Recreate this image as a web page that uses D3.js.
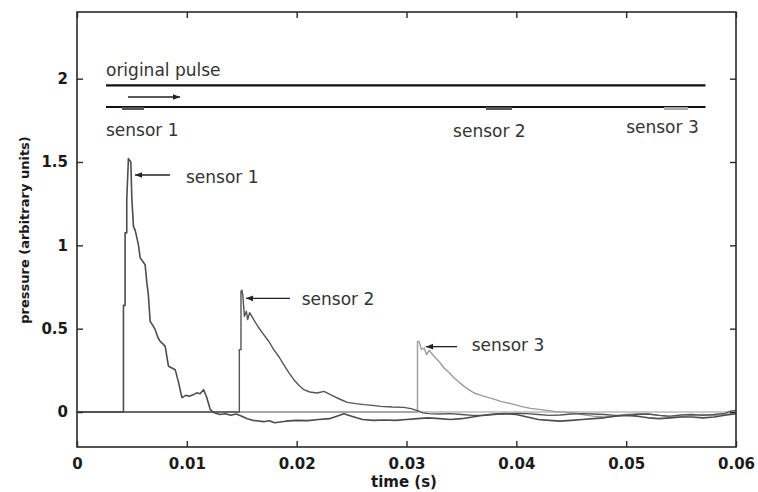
<!DOCTYPE html>
<html>
<head>
<meta charset="utf-8">
<script src="https://cdn.jsdelivr.net/npm/d3@7/dist/d3.min.js"></script>
<style>
  html, body { margin: 0; padding: 0; background: #fff; }
  svg { display: block; }
</style>
</head>
<body>
<svg id="chart" width="758" height="492"></svg>
<script>
// ---- data: pressure traces recorded at three sensors (time in s) ----
const sensor1Time = [0, 0.00423, 0.00423, 0.00438, 0.00438, 0.00453, 0.00453, 0.00468, 0.0049, 0.00499,
  0.00514, 0.0053, 0.00545, 0.0056, 0.00575, 0.0062, 0.00636, 0.0065, 0.00666, 0.0069, 0.00712, 0.00735,
  0.00757, 0.0078, 0.00803, 0.00833, 0.0086, 0.00894, 0.00925, 0.00955, 0.0099, 0.0102, 0.0106, 0.0109,
  0.0112, 0.01152, 0.0118, 0.01214, 0.0125, 0.013, 0.0135, 0.014, 0.0145, 0.015, 0.0155, 0.016, 0.017,
  0.0175, 0.018, 0.019, 0.020, 0.021, 0.022, 0.023, 0.0243, 0.025, 0.026, 0.027, 0.028, 0.029, 0.030,
  0.031, 0.032, 0.033, 0.034, 0.035, 0.036, 0.037, 0.038, 0.039, 0.040, 0.041, 0.042, 0.043, 0.044,
  0.045, 0.046, 0.047, 0.048, 0.049, 0.050, 0.051, 0.052, 0.053, 0.054, 0.055, 0.056, 0.057, 0.058,
  0.059, 0.060];
const sensor1Value = [0, 0, 0.64, 0.64, 1.075, 1.075, 1.27, 1.52, 1.50, 1.285,
  1.114, 1.09, 1.046, 1.0, 0.926, 0.884, 0.776, 0.70, 0.544, 0.52, 0.494, 0.45,
  0.424, 0.41, 0.394, 0.274, 0.265, 0.254, 0.176, 0.086, 0.10, 0.095, 0.104, 0.115,
  0.11, 0.134, 0.09, 0.014, -0.005, -0.015, -0.01, -0.02, -0.012, -0.025, -0.04, -0.05, -0.058,
  -0.052, -0.065, -0.055, -0.05, -0.052, -0.045, -0.04, -0.01, -0.025, -0.045, -0.05, -0.048, -0.05, -0.045,
  -0.04, -0.035, -0.04, -0.045, -0.04, -0.03, -0.02, -0.012, -0.01, -0.015, -0.03, -0.045, -0.05, -0.055,
  -0.05, -0.045, -0.04, -0.035, -0.025, -0.02, -0.025, -0.035, -0.04, -0.035, -0.03, -0.03, -0.035, -0.03,
  -0.02, -0.01];

const sensor2Time = [0, 0.01478, 0.01478, 0.01493, 0.01493, 0.01502, 0.0151, 0.01524, 0.01542, 0.01554,
  0.01572, 0.01609, 0.0165, 0.017, 0.0175, 0.01791, 0.0184, 0.01882, 0.0193, 0.01974, 0.0202, 0.02065,
  0.0212, 0.02187, 0.02248, 0.0229, 0.02339, 0.024, 0.02461, 0.0254, 0.02612, 0.0269, 0.02765, 0.0287,
  0.02977, 0.0304, 0.031, 0.0315, 0.032, 0.033, 0.034, 0.035, 0.036, 0.037, 0.038, 0.039, 0.040, 0.041,
  0.042, 0.043, 0.044, 0.045, 0.046, 0.047, 0.048, 0.049, 0.050, 0.051, 0.052, 0.053, 0.054, 0.055,
  0.056, 0.057, 0.058, 0.059, 0.0595, 0.060];
const sensor2Value = [0, 0, 0.374, 0.374, 0.724, 0.73, 0.70, 0.574, 0.604, 0.554,
  0.596, 0.554, 0.51, 0.464, 0.42, 0.374, 0.33, 0.284, 0.235, 0.194, 0.16, 0.134,
  0.12, 0.114, 0.124, 0.11, 0.094, 0.075, 0.058, 0.05, 0.044, 0.04, 0.034, 0.03,
  0.028, 0.02, 0.008, -0.005, -0.01, -0.012, -0.01, -0.015, -0.02, -0.02, -0.015, -0.01, -0.008, -0.01,
  -0.015, -0.02, -0.018, -0.012, -0.01, -0.012, -0.015, -0.02, -0.02, -0.015, -0.012, -0.02, -0.025, -0.018,
  -0.015, -0.02, -0.015, -0.008, 0.005, 0.01];

const sensor3Time = [0, 0.031, 0.031, 0.03114, 0.03136, 0.0316, 0.03184, 0.03205, 0.03227, 0.03251,
  0.033, 0.03342, 0.0339, 0.03434, 0.0348, 0.03525, 0.0357, 0.03616, 0.0366, 0.03707, 0.0378, 0.0386,
  0.0395, 0.04042, 0.0413, 0.04224, 0.04346, 0.04528, 0.046, 0.047, 0.048, 0.049, 0.050, 0.051, 0.052,
  0.053, 0.054, 0.055, 0.056, 0.057, 0.058, 0.059, 0.060];
const sensor3Value = [0, 0, 0.424, 0.424, 0.374, 0.384, 0.344, 0.37, 0.354, 0.334,
  0.30, 0.264, 0.235, 0.204, 0.178, 0.154, 0.133, 0.114, 0.104, 0.094, 0.08, 0.064,
  0.05, 0.034, 0.022, 0.014, 0.004, -0.005, -0.015, -0.025, -0.03, -0.025, -0.015, -0.01, -0.012,
  -0.02, -0.03, -0.028, -0.02, -0.015, -0.02, -0.015, -0.005];

// ---- axes ----
const xTicks = [0, 0.01, 0.02, 0.03, 0.04, 0.05, 0.06];
const xTickLabels = ["0", "0.01", "0.02", "0.03", "0.04", "0.05", "0.06"];
const yTicks = [0, 0.5, 1, 1.5, 2];
const yTickLabels = ["0", "0.5", "1", "1.5", "2"];
const xDomain = [0, 0.06];
const yDomain = [-0.21, 2.4];

// ---- schematic of the tube: pulse line, sensor line, direction arrow ----
const pulseLineX = [0.00264, 0.05722], pulseLineY = 1.96;
const sensorLineX = [0.00264, 0.05722], sensorLineY = 1.83;
const directionArrowX = [0.00464, 0.00938], directionArrowY = 1.89;
const sensorNames = ["sensor 1", "sensor 2", "sensor 3"];
const sensorMarkStart = [0.0041, 0.03724, 0.05345];
const sensorMarkEnd = [0.0061, 0.0396, 0.05563];
const sensorNameX = [0.00264, 0.03424, 0.05];
const sensorNameY = [1.658, 1.648, 1.672];

// ---- peak callouts ----
const calloutTipX = [0.00528, 0.01539, 0.03178];
const calloutTailX = [0.00847, 0.01939, 0.0346];
const calloutY = [1.422, 0.682, 0.392];
const calloutTextX = [0.00992, 0.02046, 0.03594];
const calloutTextY = [1.376, 0.642, 0.368];

// ---- drawing ----
const svg = d3.select("#chart");
const plotLeft = 77, plotRight = 736, plotTop = 12, plotBottom = 447;
const x = d3.scaleLinear().domain(xDomain).range([plotLeft, plotRight]);
const y = d3.scaleLinear().domain(yDomain).range([plotBottom, plotTop]);

const tickFont = "'DejaVu Sans', sans-serif";
const ink = "#1a1a1a";

svg.append("rect").attr("width", 758).attr("height", 492).attr("fill", "#fff");

const defs = svg.append("defs");
defs.append("marker")
  .attr("id", "head").attr("viewBox", "0 0 10 10")
  .attr("refX", 10).attr("refY", 5)
  .attr("markerWidth", 10).attr("markerHeight", 7)
  .attr("markerUnits", "userSpaceOnUse")
  .attr("orient", "auto")
  .append("path").attr("d", "M0,1 L10,5 L0,9 Z").attr("fill", "#222");

// zero reference
svg.append("line")
  .attr("x1", x(xDomain[0])).attr("x2", x(xDomain[1]))
  .attr("y1", y(0)).attr("y2", y(0))
  .attr("stroke", "#9a9a9a").attr("stroke-width", 1.2);

const line = d3.line().x(d => x(d[0])).y(d => y(d[1]));
const traces = [
  { t: sensor3Time, v: sensor3Value, color: "#9c9c9c", w: 1.4 },
  { t: sensor2Time, v: sensor2Value, color: "#555555", w: 1.4 },
  { t: sensor1Time, v: sensor1Value, color: "#4d4d4d", w: 1.6 }
];
traces.forEach(tr => {
  svg.append("path")
    .datum(d3.zip(tr.t, tr.v))
    .attr("d", line)
    .attr("fill", "none")
    .attr("stroke", tr.color)
    .attr("stroke-width", tr.w)
    .attr("stroke-linejoin", "round");
});

// frame and axes (ticks pointing inward, mirrored on top/right)
svg.append("rect")
  .attr("x", plotLeft).attr("y", plotTop)
  .attr("width", plotRight - plotLeft).attr("height", plotBottom - plotTop)
  .attr("fill", "none").attr("stroke", "#2a2a2a").attr("stroke-width", 1.6);

function styleAxis(g) {
  g.select(".domain").remove();
  g.selectAll(".tick line").attr("stroke", "#2a2a2a").attr("stroke-width", 1.4);
  g.selectAll(".tick text")
    .attr("font-family", tickFont).attr("font-weight", "bold")
    .attr("font-size", 15).attr("fill", ink);
}

svg.append("g").attr("transform", `translate(0,${plotBottom})`)
  .call(d3.axisBottom(x).tickValues(xTicks).tickSize(-6).tickPadding(11)
    .tickFormat((d, i) => xTickLabels[i]))
  .call(styleAxis);
svg.append("g").attr("transform", `translate(0,${plotTop})`)
  .call(d3.axisTop(x).tickValues(xTicks).tickSize(-6).tickFormat(""))
  .call(styleAxis);
svg.append("g").attr("transform", `translate(${plotLeft},0)`)
  .call(d3.axisLeft(y).tickValues(yTicks).tickSize(-6).tickPadding(9)
    .tickFormat((d, i) => yTickLabels[i]))
  .call(styleAxis);
svg.append("g").attr("transform", `translate(${plotRight},0)`)
  .call(d3.axisRight(y).tickValues(yTicks).tickSize(-6).tickFormat(""))
  .call(styleAxis);

// axis titles
svg.append("text")
  .attr("x", 404).attr("y", 487)
  .attr("text-anchor", "middle")
  .attr("font-family", tickFont).attr("font-weight", "bold").attr("font-size", 15)
  .attr("fill", ink).text("time (s)");
svg.append("text")
  .attr("transform", "translate(29,230) rotate(-90)")
  .attr("text-anchor", "middle")
  .attr("font-family", tickFont).attr("font-weight", "bold").attr("font-size", 13)
  .attr("fill", ink).text("pressure (arbitrary units)");

// schematic
const noteFamily = "'DejaVu Sans', sans-serif", noteSize = 17, noteColor = "#333";
[[pulseLineX, pulseLineY], [sensorLineX, sensorLineY]].forEach(([xs, yv]) => {
  svg.append("line")
    .attr("x1", x(xs[0])).attr("x2", x(xs[1]))
    .attr("y1", y(yv)).attr("y2", y(yv))
    .attr("stroke", "#111").attr("stroke-width", 2.2);
});
svg.append("line")
  .attr("x1", x(directionArrowX[0])).attr("x2", x(directionArrowX[1]))
  .attr("y1", y(directionArrowY)).attr("y2", y(directionArrowY))
  .attr("stroke", "#222").attr("stroke-width", 1.3)
  .attr("marker-end", "url(#head)");
const markColors = ["#555", "#555", "#a8a8a8"];
sensorNames.forEach((name, i) => {
  svg.append("line")
    .attr("x1", x(sensorMarkStart[i])).attr("x2", x(sensorMarkEnd[i]))
    .attr("y1", y(sensorLineY) + 1.5).attr("y2", y(sensorLineY) + 1.5)
    .attr("stroke", markColors[i]).attr("stroke-width", 3);
  svg.append("text")
    .attr("x", x(sensorNameX[i])).attr("y", y(sensorNameY[i]))
    .attr("font-family", noteFamily).attr("font-size", noteSize)
    .attr("fill", noteColor).text(name);
});
svg.append("text")
  .attr("x", x(pulseLineX[0])).attr("y", y(2.016))
  .attr("font-family", noteFamily).attr("font-size", noteSize)
  .attr("fill", noteColor).text("original pulse");

// callouts pointing at each peak
sensorNames.forEach((name, i) => {
  svg.append("line")
    .attr("x1", x(calloutTailX[i])).attr("x2", x(calloutTipX[i]))
    .attr("y1", y(calloutY[i])).attr("y2", y(calloutY[i]))
    .attr("stroke", "#222").attr("stroke-width", 1.3)
    .attr("marker-end", "url(#head)");
  svg.append("text")
    .attr("x", x(calloutTextX[i])).attr("y", y(calloutTextY[i]))
    .attr("font-family", noteFamily).attr("font-size", noteSize)
    .attr("fill", noteColor).text(name);
});
</script>
</body>
</html>
